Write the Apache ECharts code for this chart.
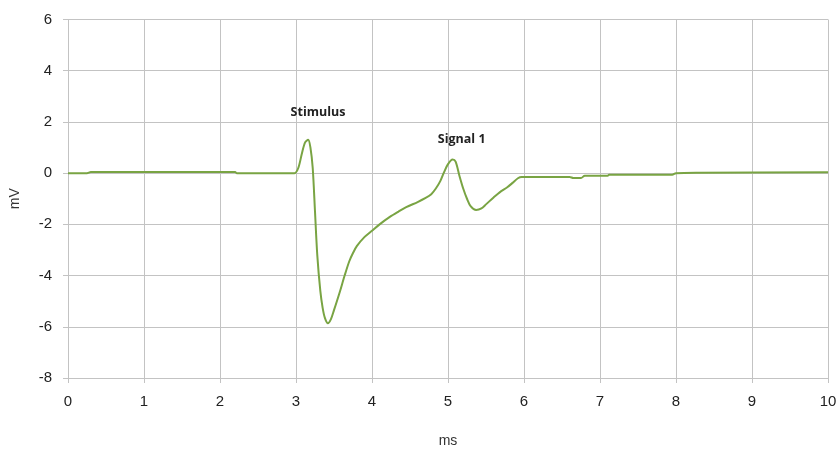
<!DOCTYPE html>
<html>
<head>
<meta charset="utf-8">
<script src="https://cdn.jsdelivr.net/npm/echarts@6/dist/echarts.min.js"></script>
<style>html,body{margin:0;padding:0;background:#fff}#c{width:840px;height:453px}</style>
</head>
<body>
<div id="c"></div>
<script>
var timeMs = [0,0.25,0.3,1,2,2.2,2.22,2.98,3.03,3.08,3.12,3.16,3.19,3.22,3.25,3.28,3.32,3.35,3.38,3.42,3.46,3.5,3.57,3.64,3.7,3.75,3.8,3.9,4.0,4.1,4.23,4.35,4.45,4.6,4.7,4.78,4.84,4.9,4.95,5.0,5.06,5.1,5.15,5.2,5.25,5.3,5.37,5.44,5.5,5.6,5.68,5.78,5.85,5.92,5.97,6.6,6.65,6.75,6.8,7.1,7.12,7.95,8.0,8.3,10];
var voltageMv = [0,0.0,0.04,0.04,0.04,0.04,0.0,0.0,0.2,0.8,1.2,1.3,1.0,0.2,-1.5,-3.2,-4.6,-5.25,-5.65,-5.86,-5.7,-5.35,-4.7,-4.0,-3.45,-3.12,-2.85,-2.5,-2.25,-2.0,-1.72,-1.5,-1.33,-1.13,-0.98,-0.82,-0.6,-0.3,0.05,0.35,0.53,0.45,-0.1,-0.6,-1.0,-1.3,-1.44,-1.38,-1.22,-0.95,-0.75,-0.55,-0.38,-0.2,-0.15,-0.15,-0.19,-0.19,-0.1,-0.1,-0.06,-0.06,0.0,0.02,0.03];
var annotations = [{name:'Stimulus', x:3.29, y:2.37},{name:'Signal 1', x:5.18, y:1.32}];
var xTicks = [0,1,2,3,4,5,6,7,8,9,10];
var yTicks = [-8,-6,-4,-2,0,2,4,6];

var data = timeMs.map(function(t,i){return [t, voltageMv[i]];});
var chart = echarts.init(document.getElementById('c'), null, {renderer:'canvas'});
var gridColor = '#c3c3c3';
chart.setOption({
  animation:false,
  backgroundColor:'#fff',
  grid:{left:68, right:12, top:19.5, bottom:71.3, containLabel:false},
  xAxis:{type:'value', min:0, max:10, interval:1, name:'ms', nameLocation:'middle', nameGap:56,
    nameTextStyle:{fontFamily:'Liberation Sans', fontSize:14, color:'#333'},
    axisLine:{onZero:false, lineStyle:{color:gridColor}},
    axisTick:{show:true, length:5, lineStyle:{color:gridColor}},
    axisLabel:{margin:16, fontFamily:'Liberation Sans', fontSize:15, color:'#222'},
    splitLine:{show:true, lineStyle:{color:gridColor, width:1}}},
  yAxis:{type:'value', min:-8, max:6, interval:2, name:'mV', nameLocation:'middle', nameGap:46,
    nameTextStyle:{fontFamily:'Liberation Sans', fontSize:14, color:'#333'},
    axisLine:{show:true, lineStyle:{color:gridColor}},
    axisTick:{show:true, length:5, lineStyle:{color:gridColor}},
    axisLabel:{margin:16, fontFamily:'Liberation Sans', fontSize:15, color:'#222'},
    splitLine:{show:true, lineStyle:{color:gridColor, width:1}}},
  series:[{type:'line', data:data, showSymbol:false, smooth:0.3,
    lineStyle:{color:'#79a443', width:2}, itemStyle:{color:'#79a443'},
    markPoint:{symbol:'circle', symbolSize:0, silent:true,
      label:{show:true, position:'inside', formatter:'{b}', fontFamily:'Open Sans', fontWeight:'bold', fontSize:12.5, color:'#222'},
      data:annotations.map(function(a){return {name:a.name, coord:[a.x,a.y]};})}
  }]
});
</script>
</body>
</html>
